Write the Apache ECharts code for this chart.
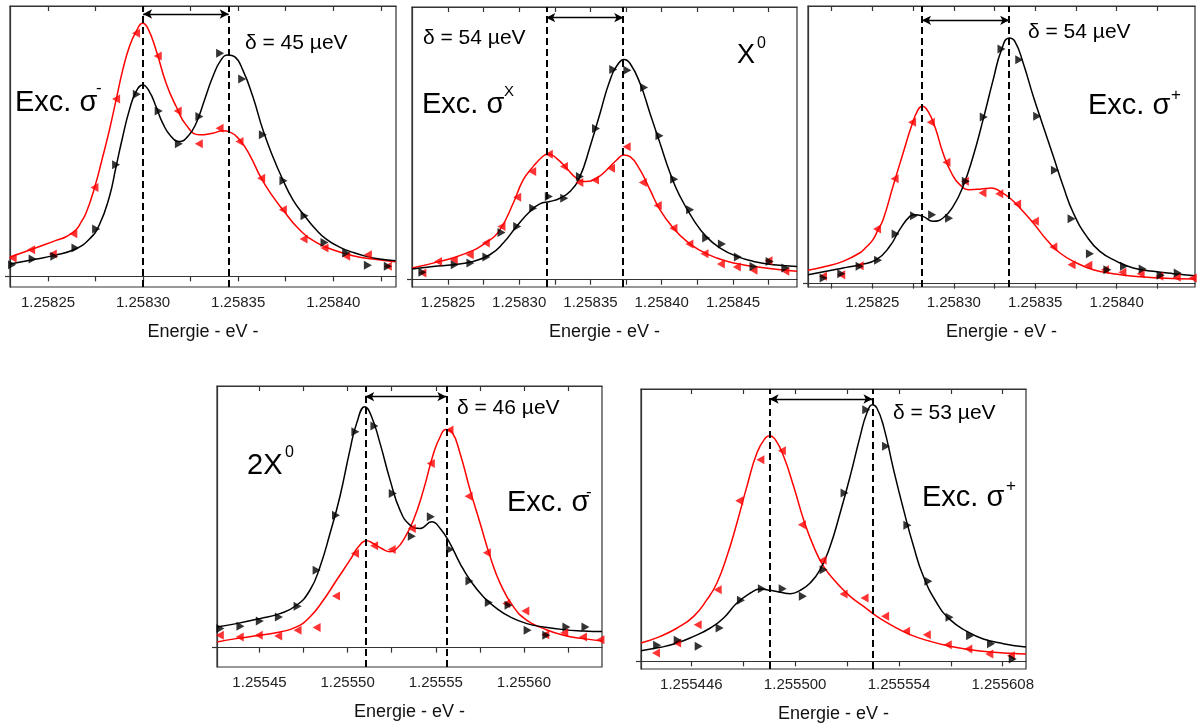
<!DOCTYPE html>
<html><head><meta charset="utf-8">
<script src="https://cdn.jsdelivr.net/npm/echarts@6.0.0/dist/echarts.min.js"></script>
<style>html,body{margin:0;padding:0;background:#fff}#c{width:1198px;height:725px}</style>
</head><body><div id="c"></div>
<script>
const FONT = '"Liberation Sans", Arial, sans-serif';
const AXIS_TITLE = 'Energie - eV -';

// ---------- Panel 1 (X0, Exc. sigma-) ----------
const p1TickLabels = ['1.25825', '1.25830', '1.25835', '1.25840'];
const p1MinorTicks = [1.258275, 1.258325, 1.258375, 1.258425];
const p1Peaks = [1.25830, 1.258345];
const p1RedFit = [[1.2582300,5.8],[1.2582419,8.2],[1.2582542,10.8],[1.2582595,11.9],[1.2582647,14.0],[1.2582674,16.3],[1.2582700,19.0],[1.2582744,26.5],[1.2582788,36.0],[1.2582823,44.0],[1.2582858,53.0],[1.2582893,62.0],[1.2582928,69.0],[1.2582963,73.5],[1.2582998,76.0],[1.2583025,74.5],[1.2583068,68.0],[1.2583121,58.0],[1.2583174,51.0],[1.2583226,45.5],[1.2583296,42.5],[1.2583367,43.0],[1.2583419,43.7],[1.2583454,43.4],[1.2583507,41.0],[1.2583560,36.5],[1.2583621,29.5],[1.2583682,24.0],[1.2583735,20.0],[1.2583823,14.0],[1.2583910,10.2],[1.2583998,8.0],[1.2584103,6.2],[1.2584209,5.2],[1.2584328,4.4]];
const p1BlackFit = [[1.2582300,3.7],[1.2582419,5.0],[1.2582533,6.3],[1.2582644,8.2],[1.2582718,11.2],[1.2582770,15.5],[1.2582823,24.0],[1.2582858,33.0],[1.2582893,42.0],[1.2582928,50.0],[1.2582963,55.5],[1.2582998,57.5],[1.2583033,55.5],[1.2583068,51.0],[1.2583103,46.0],[1.2583147,42.0],[1.2583191,40.5],[1.2583235,42.0],[1.2583279,46.0],[1.2583323,53.0],[1.2583367,60.0],[1.2583410,65.0],[1.2583447,66.5],[1.2583481,66.0],[1.2583524,62.0],[1.2583577,54.0],[1.2583630,44.0],[1.2583682,36.0],[1.2583735,29.0],[1.2583788,23.0],[1.2583849,18.2],[1.2583910,14.0],[1.2583963,11.2],[1.2584033,8.8],[1.2584103,7.2],[1.2584173,6.0],[1.2584244,5.2],[1.2584328,4.7]];
const p1RedPts = [[1.2582314,5.5],[1.2582411,8.0],[1.2582525,6.7],[1.2582633,12.8],[1.2582744,26.7],[1.2582858,53.3],[1.2582963,73.0],[1.2583077,66.2],[1.2583182,49.7],[1.2583293,39.8],[1.2583402,44.5],[1.2583507,40.5],[1.2583621,29.5],[1.2583735,20.0],[1.2583844,11.2],[1.2583954,8.5],[1.2584068,6.0],[1.2584182,6.5],[1.2584287,3.0]];
const p1BlackPts = [[1.2582311,3.5],[1.2582419,5.2],[1.2582533,6.0],[1.2582644,8.5],[1.2582753,14.2],[1.2582858,33.5],[1.2582967,54.7],[1.2583082,49.7],[1.2583188,39.8],[1.2583296,48.0],[1.2583405,67.0],[1.2583521,59.3],[1.2583630,42.5],[1.2583738,28.7],[1.2583849,18.2],[1.2583954,10.2],[1.2584068,7.0],[1.2584182,3.3],[1.2584287,3.0]];

// ---------- Panel 2 (X0, Exc. sigma X) ----------
const p2TickLabels = ['1.25825', '1.25830', '1.25835', '1.25840', '1.25845'];
const p2MinorTicks = [1.258275, 1.258325, 1.258375, 1.258425, 1.258475];
const p2Peaks = [1.258319, 1.258373];
const p2RedFit = [[1.2582248,3.5],[1.2582443,5.5],[1.2582630,8.0],[1.2582770,11.2],[1.2582864,15.0],[1.2582958,23.0],[1.2583028,30.0],[1.2583098,34.0],[1.2583169,37.2],[1.2583204,37.8],[1.2583262,36.5],[1.2583333,33.5],[1.2583403,30.5],[1.2583473,29.5],[1.2583543,30.5],[1.2583614,33.0],[1.2583684,36.0],[1.2583735,37.5],[1.2583778,37.0],[1.2583848,33.0],[1.2583918,27.0],[1.2583988,21.0],[1.2584082,15.5],[1.2584176,11.5],[1.2584269,8.8],[1.2584386,6.5],[1.2584504,5.0],[1.2584644,4.0],[1.2584785,3.2],[1.2584949,2.5]];
const p2BlackFit = [[1.2582248,3.2],[1.2582396,4.0],[1.2582536,4.5],[1.2582677,5.5],[1.2582794,7.5],[1.2582888,11.0],[1.2582981,16.0],[1.2583075,20.5],[1.2583145,22.8],[1.2583215,23.5],[1.2583286,24.5],[1.2583356,26.5],[1.2583426,31.0],[1.2583497,40.0],[1.2583567,50.0],[1.2583637,60.0],[1.2583696,65.0],[1.2583735,66.2],[1.2583778,65.0],[1.2583848,59.0],[1.2583918,50.0],[1.2583988,41.0],[1.2584059,32.0],[1.2584129,25.0],[1.2584223,18.0],[1.2584316,12.8],[1.2584410,9.5],[1.2584527,7.0],[1.2584644,5.5],[1.2584785,4.5],[1.2584949,4.0]];
const p2RedPts = [[1.2582321,2.0],[1.2582431,5.5],[1.2582541,6.0],[1.2582653,7.5],[1.2582766,11.0],[1.2582876,16.0],[1.2582986,24.8],[1.2583091,32.5],[1.2583208,37.7],[1.2583314,34.0],[1.2583422,29.2],[1.2583532,30.0],[1.2583644,33.5],[1.2583754,40.0],[1.2583867,29.2],[1.2583972,22.3],[1.2584082,15.5],[1.2584194,10.7],[1.2584300,7.8],[1.2584415,4.7],[1.2584527,3.8],[1.2584644,2.8],[1.2584749,5.7],[1.2584867,2.5]];
const p2BlackPts = [[1.2582321,2.2],[1.2582548,4.5],[1.2582658,5.0],[1.2582770,6.8],[1.2582876,14.2],[1.2582986,16.0],[1.2583098,21.5],[1.2583208,25.0],[1.2583316,24.5],[1.2583426,31.0],[1.2583539,45.5],[1.2583660,63.2],[1.2583759,63.0],[1.2583876,57.8],[1.2583984,43.3],[1.2584087,30.2],[1.2584199,21.0],[1.2584312,12.5],[1.2584422,10.7],[1.2584534,6.8],[1.2584644,4.0],[1.2584757,5.5],[1.2584867,3.5]];

// ---------- Panel 3 (X0, Exc. sigma+) ----------
const p3TickLabels = ['1.25825', '1.25830', '1.25835', '1.25840'];
const p3MinorTicks = [1.258225, 1.258275, 1.258325, 1.258375, 1.258425];
const p3Peaks = [1.2582805, 1.258334];
const p3RedFit = [[1.2582105,4.0],[1.2582217,5.2],[1.2582320,6.7],[1.2582422,9.2],[1.2582463,11.0],[1.2582504,13.2],[1.2582535,16.2],[1.2582566,19.2],[1.2582627,29.2],[1.2582689,39.2],[1.2582740,47.2],[1.2582781,52.2],[1.2582807,53.2],[1.2582842,51.7],[1.2582883,47.2],[1.2582934,39.2],[1.2582986,33.2],[1.2583037,29.7],[1.2583098,28.2],[1.2583170,28.4],[1.2583232,28.7],[1.2583283,27.7],[1.2583344,25.7],[1.2583406,22.7],[1.2583488,18.2],[1.2583570,13.2],[1.2583652,9.2],[1.2583754,6.2],[1.2583856,4.2],[1.2583979,3.0],[1.2584102,2.2],[1.2584266,1.7],[1.2584481,1.4]];
const p3BlackFit = [[1.2582105,2.7],[1.2582217,3.7],[1.2582320,4.7],[1.2582422,5.7],[1.2582525,7.2],[1.2582607,11.2],[1.2582668,16.2],[1.2582730,20.2],[1.2582760,20.7],[1.2582811,20.2],[1.2582873,18.7],[1.2582934,19.7],[1.2582996,23.2],[1.2583057,29.2],[1.2583119,38.2],[1.2583180,49.2],[1.2583242,61.2],[1.2583293,70.2],[1.2583340,73.7],[1.2583375,72.7],[1.2583426,66.2],[1.2583488,56.2],[1.2583549,47.2],[1.2583611,38.2],[1.2583672,29.2],[1.2583734,21.2],[1.2583816,14.2],[1.2583897,9.7],[1.2584000,6.7],[1.2584102,4.7],[1.2584225,3.7],[1.2584348,3.0],[1.2584481,2.4]];
const p3RedPts = [[1.2582197,2.2],[1.2582309,2.7],[1.2582422,5.4],[1.2582529,16.4],[1.2582637,31.5],[1.2582744,48.4],[1.2582859,48.4],[1.2582955,36.4],[1.2583068,30.7],[1.2583176,27.2],[1.2583279,27.0],[1.2583389,23.9],[1.2583498,18.7],[1.2583611,11.0],[1.2583723,5.7],[1.2583826,5.5],[1.2583928,4.2],[1.2584035,3.4],[1.2584147,3.0],[1.2584262,2.2],[1.2584369,1.9],[1.2584467,1.7]];
const p3BlackPts = [[1.2582201,1.7],[1.2582309,3.0],[1.2582422,5.2],[1.2582535,7.0],[1.2582643,14.9],[1.2582756,20.4],[1.2582867,20.7],[1.2582971,19.6],[1.2583074,30.7],[1.2583184,50.0],[1.2583293,70.4],[1.2583402,67.2],[1.2583512,50.2],[1.2583621,34.0],[1.2583723,19.5],[1.2583836,9.0],[1.2583943,4.2],[1.2584045,5.2],[1.2584160,4.4],[1.2584270,2.5],[1.2584375,3.2]];

// ---------- Panel 4 (2X0, Exc. sigma-) ----------
const p4TickLabels = ['1.25545', '1.25550', '1.25555', '1.25560'];
const p4MinorTicks = [1.255475, 1.255525, 1.255575, 1.255625];
const p4Peaks = [1.25551, 1.255556];
const p4RedFit = [[1.2554259,1.7],[1.2554369,2.7],[1.2554502,3.7],[1.2554616,4.7],[1.2554710,6.2],[1.2554786,9.2],[1.2554862,14.2],[1.2554937,20.2],[1.2555013,26.2],[1.2555061,30.2],[1.2555108,32.0],[1.2555146,31.2],[1.2555193,29.7],[1.2555241,28.7],[1.2555278,29.7],[1.2555316,32.2],[1.2555373,38.2],[1.2555430,47.2],[1.2555487,58.2],[1.2555525,63.2],[1.2555557,65.4],[1.2555591,64.7],[1.2555638,58.2],[1.2555695,47.2],[1.2555752,37.2],[1.2555809,27.2],[1.2555866,19.2],[1.2555941,12.2],[1.2556017,8.2],[1.2556112,5.7],[1.2556225,3.7],[1.2556339,2.7],[1.2556443,2.0]];
const p4BlackFit = [[1.2554259,6.2],[1.2554369,7.2],[1.2554502,8.7],[1.2554616,10.2],[1.2554710,12.7],[1.2554786,17.2],[1.2554843,24.2],[1.2554900,34.2],[1.2554956,45.2],[1.2555013,59.2],[1.2555051,67.2],[1.2555098,72.2],[1.2555136,69.2],[1.2555184,61.2],[1.2555241,50.2],[1.2555297,41.2],[1.2555354,36.7],[1.2555411,35.7],[1.2555477,37.7],[1.2555525,35.7],[1.2555581,31.2],[1.2555638,25.2],[1.2555695,20.2],[1.2555771,15.2],[1.2555847,11.7],[1.2555922,9.2],[1.2556017,7.2],[1.2556112,6.2],[1.2556225,5.4],[1.2556339,5.0],[1.2556443,4.8]];
const p4RedPts = [[1.2554275,3.7],[1.2554388,3.2],[1.2554496,3.7],[1.2554606,3.5],[1.2554716,5.2],[1.2554824,6.0],[1.2554934,15.5],[1.2555042,28.2],[1.2555150,30.5],[1.2555250,29.4],[1.2555364,35.7],[1.2555472,55.2],[1.2555578,65.2],[1.2555686,45.4],[1.2555790,28.4],[1.2555900,13.2],[1.2556008,11.0],[1.2556121,3.9],[1.2556229,4.5],[1.2556335,3.2],[1.2556434,2.4]];
const p4BlackPts = [[1.2554278,5.7],[1.2554392,6.4],[1.2554502,8.0],[1.2554610,9.2],[1.2554716,12.4],[1.2554824,23.2],[1.2554934,39.7],[1.2555044,64.7],[1.2555152,66.4],[1.2555256,46.2],[1.2555364,33.4],[1.2555472,39.2],[1.2555581,29.4],[1.2555691,20.0],[1.2555801,13.5],[1.2555913,12.7],[1.2556021,5.2],[1.2556127,3.7],[1.2556241,6.2],[1.2556349,6.2]];

// ---------- Panel 5 (2X0, Exc. sigma+) ----------
const p5TickLabels = ['1.255446', '1.255500', '1.255554', '1.255608'];
const p5MinorTicks = [1.255473, 1.255527, 1.255581];
const p5Peaks = [1.2554867, 1.2555402];
const p5RedFit = [[1.2554198,5.5],[1.2554299,7.5],[1.2554386,10.0],[1.2554472,13.5],[1.2554541,18.5],[1.2554593,23.5],[1.2554645,31.5],[1.2554697,41.5],[1.2554749,52.5],[1.2554801,62.5],[1.2554845,67.0],[1.2554867,67.7],[1.2554897,66.5],[1.2554940,61.5],[1.2554992,52.5],[1.2555044,42.5],[1.2555096,34.5],[1.2555148,28.5],[1.2555217,23.5],[1.2555286,19.5],[1.2555356,16.5],[1.2555425,13.5],[1.2555512,10.5],[1.2555598,8.0],[1.2555702,6.0],[1.2555806,4.5],[1.2555910,3.5],[1.2556014,2.8],[1.2556118,2.4],[1.2556201,2.2]];
const p5BlackFit = [[1.2554198,3.2],[1.2554299,4.2],[1.2554386,5.5],[1.2554472,7.5],[1.2554559,10.0],[1.2554628,13.0],[1.2554697,17.5],[1.2554767,20.5],[1.2554819,21.7],[1.2554871,21.3],[1.2554923,20.7],[1.2554975,20.3],[1.2555026,21.3],[1.2555078,23.5],[1.2555130,27.5],[1.2555182,34.5],[1.2555234,44.5],[1.2555286,55.5],[1.2555338,67.5],[1.2555373,74.5],[1.2555402,77.0],[1.2555425,76.0],[1.2555460,70.5],[1.2555512,57.5],[1.2555564,45.5],[1.2555616,34.5],[1.2555667,25.5],[1.2555737,17.5],[1.2555806,12.5],[1.2555893,9.0],[1.2555979,6.7],[1.2556083,5.3],[1.2556201,4.3]];
const p5RedPts = [[1.2554276,2.5],[1.2554386,5.5],[1.2554493,11.0],[1.2554597,21.5],[1.2554709,48.2],[1.2554819,60.5],[1.2554931,63.2],[1.2555035,41.0],[1.2555143,30.3],[1.2555252,20.2],[1.2555361,19.0],[1.2555468,13.5],[1.2555577,9.0],[1.2555685,8.0],[1.2555794,5.0],[1.2555901,3.7],[1.2556010,2.2],[1.2556123,1.7]];
const p5BlackPts = [[1.2554282,4.8],[1.2554389,6.3],[1.2554498,4.5],[1.2554607,10.0],[1.2554718,18.3],[1.2554827,21.8],[1.2554935,21.8],[1.2555040,19.5],[1.2555148,27.5],[1.2555257,50.5],[1.2555370,75.5],[1.2555473,64.5],[1.2555584,40.8],[1.2555693,24.0],[1.2555803,13.2],[1.2555910,7.7],[1.2556019,5.3],[1.2556132,0.7]];

// ---------- layout (positions / ranges only) ----------
const panels = [
  {box:{left:10, top:6, width:386, height:281}, x:[1.25823, 1.258433], y:[-3.2, 81.2], labels:p1TickLabels, minor:p1MinorTicks, peaks:p1Peaks, arrowY:78.8, red:p1RedFit, black:p1BlackFit, redPts:p1RedPts, blackPts:p1BlackPts},
  {box:{left:412, top:7, width:385, height:280}, x:[1.2582248, 1.2584949], y:[-2.2, 82.0], labels:p2TickLabels, minor:p2MinorTicks, peaks:p2Peaks, arrowY:78.8, red:p2RedFit, black:p2BlackFit, redPts:p2RedPts, blackPts:p2BlackPts},
  {box:{left:808, top:6, width:387, height:281}, x:[1.2582105, 1.2584481], y:[-1.0, 83.3], labels:p3TickLabels, minor:p3MinorTicks, peaks:p3Peaks, arrowY:79.0, red:p3RedFit, black:p3BlackFit, redPts:p3RedPts, blackPts:p3BlackPts},
  {box:{left:217, top:386, width:385, height:281}, x:[1.2554259, 1.2556443], y:[-5.8, 78.4], labels:p4TickLabels, minor:p4MinorTicks, peaks:p4Peaks, arrowY:75.2, red:p4RedFit, black:p4BlackFit, redPts:p4RedPts, blackPts:p4BlackPts},
  {box:{left:641, top:389, width:385, height:280}, x:[1.2554198, 1.2556201], y:[-2.3, 81.7], labels:p5TickLabels, minor:p5MinorTicks, peaks:p5Peaks, arrowY:78.7, red:p5RedFit, black:p5BlackFit, redPts:p5RedPts, blackPts:p5BlackPts}
];

const annotations = [
  {t:'δ = 45 µeV', x:245, y:43, s:21},
  {t:'Exc. σ', x:15, y:103, s:29}, {t:'-', x:96, y:88, s:17},
  {t:'δ = 54 µeV', x:423, y:38, s:21},
  {t:'X', x:737, y:56, s:27}, {t:'0', x:757, y:44, s:16},
  {t:'Exc. σ', x:422, y:105, s:29}, {t:'X', x:504, y:92, s:15},
  {t:'δ = 54 µeV', x:1028, y:32, s:21},
  {t:'Exc. σ', x:1088, y:106, s:29}, {t:'+', x:1171, y:95, s:17},
  {t:'δ = 46 µeV', x:457, y:408, s:21},
  {t:'2X', x:247, y:466, s:29}, {t:'0', x:285, y:453, s:16},
  {t:'Exc. σ', x:507, y:503, s:29}, {t:'-', x:586, y:492, s:17},
  {t:'δ = 53 µeV', x:893, y:413, s:21},
  {t:'Exc. σ', x:922, y:498, s:29}, {t:'+', x:1006, y:486, s:17}
];

const AX = '#333';
const option = {animation:false, backgroundColor:'#fff', grid:[], xAxis:[], yAxis:[], series:[], graphic:[]};

panels.forEach((p, i) => {
  const tickVals = p.labels.map(Number);
  const allTicks = tickVals.concat(p.minor);
  option.grid.push(Object.assign({show:true, borderColor:AX, borderWidth:1.2, backgroundColor:'transparent'}, p.box));
  const base = {type:'value', gridIndex:i, min:p.x[0], max:p.x[1], splitLine:{show:false},
    axisLine:{show:true, lineStyle:{color:AX, width:1.2}}};
  option.xAxis.push(Object.assign({}, base, {
    position:'bottom', name:AXIS_TITLE, nameLocation:'middle', nameGap:36,
    nameTextStyle:{fontSize:18, color:'#111', fontFamily:FONT},
    axisTick:{show:true, inside:false, length:5, customValues:allTicks, lineStyle:{color:AX, width:1.2}},
    axisLabel:{show:true, customValues:tickVals, margin:8, fontSize:15, color:'#222', fontFamily:FONT,
      formatter:(v) => { const k = tickVals.findIndex(t => Math.abs(t - v) < 1e-9); return k >= 0 ? p.labels[k] : ''; }}
  }));
  option.xAxis.push(Object.assign({}, base, {
    position:'top',
    axisTick:{show:true, inside:true, length:5, customValues:allTicks, lineStyle:{color:AX, width:1.2}},
    axisLabel:{show:false}
  }));
  option.yAxis.push({type:'value', gridIndex:i, min:p.y[0], max:p.y[1], splitLine:{show:false},
    axisLine:{show:true, lineStyle:{color:AX, width:1.2}},
    axisTick:{show:true, inside:false, length:5, customValues:[0], lineStyle:{color:AX, width:1.2}},
    axisLabel:{show:false}});
  const xi = 2 * i;
  option.series.push({type:'line', xAxisIndex:xi, yAxisIndex:i, data:p.red, smooth:0.5, showSymbol:false,
    lineStyle:{color:'#ff0000', width:1.5}, z:2, silent:true});
  option.series.push({type:'line', xAxisIndex:xi, yAxisIndex:i, data:p.black, smooth:0.5, showSymbol:false,
    lineStyle:{color:'#000', width:1.5}, z:2, silent:true});
  option.series.push({type:'scatter', xAxisIndex:xi, yAxisIndex:i, data:p.redPts, symbol:'triangle',
    symbolRotate:90, symbolSize:[9,8], itemStyle:{color:'#ff0000'}, z:3, silent:true,
    markLine:{silent:true, symbol:['arrow','arrow'], symbolSize:[7,9], label:{show:false},
      lineStyle:{color:'#000', type:'solid', width:1.3},
      data:[[{coord:[p.peaks[0], p.arrowY]}, {coord:[p.peaks[1], p.arrowY]}]]}});
  option.series.push({type:'scatter', xAxisIndex:xi, yAxisIndex:i, data:p.blackPts, symbol:'triangle',
    symbolRotate:-90, symbolSize:[9,8], itemStyle:{color:'#000'}, z:4, silent:true,
    markLine:{silent:true, symbol:['none','none'], label:{show:false},
      lineStyle:{color:'#000', type:[7,4], width:2},
      data:p.peaks.map(v => [{coord:[v, p.y[0]]}, {coord:[v, p.y[1]]}])}});
});

annotations.forEach(a => {
  option.graphic.push({type:'text', x:a.x, y:a.y, z:10, silent:true,
    style:{text:a.t, fontSize:a.s, fontFamily:FONT, fill:'#000', align:'left', verticalAlign:'middle'}});
});

const chart = echarts.init(document.getElementById('c'), null, {renderer:'canvas'});
chart.setOption(option);
</script>
</body></html>
